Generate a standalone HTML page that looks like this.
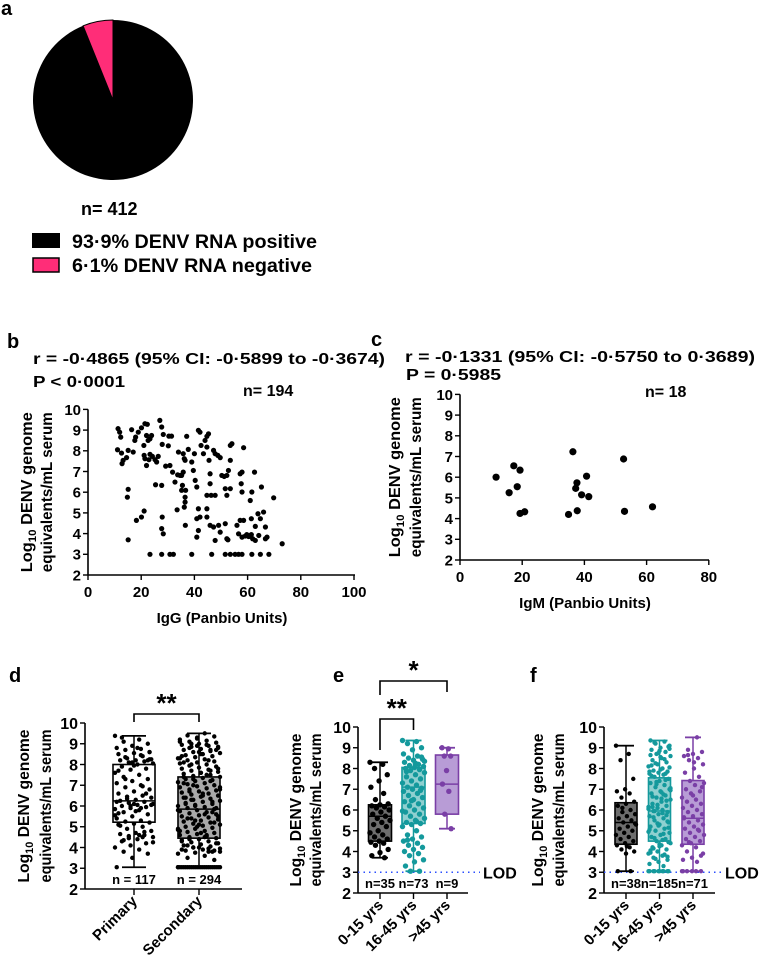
<!DOCTYPE html>
<html><head><meta charset="utf-8"><style>
html,body{margin:0;padding:0;background:#fff}
svg{display:block;font-family:"Liberation Sans",Arial,sans-serif;font-weight:bold}
</style></head><body>
<svg id="fig" width="760" height="974" viewBox="0 0 760 974" xmlns="http://www.w3.org/2000/svg">
<text x="1" y="15" font-size="20">a</text>
<g id="pie"></g>
<text x="81" y="215" font-size="18">n= 412</text>
<rect x="32" y="233" width="28" height="15" fill="#000"/>
<text x="72" y="248" font-size="19" textLength="245" lengthAdjust="spacingAndGlyphs">93·9%  DENV RNA positive</text>
<rect x="33" y="258" width="26" height="14" fill="#ff2d78" stroke="#000" stroke-width="1.5"/>
<text x="72" y="272" font-size="19" textLength="240" lengthAdjust="spacingAndGlyphs">6·1%  DENV RNA negative</text>

<text x="7" y="348" font-size="20">b</text>
<text x="33" y="364" font-size="16" textLength="352" lengthAdjust="spacingAndGlyphs">r = -0·4865 (95% CI: -0·5899 to -0·3674)</text>
<text x="33" y="387" font-size="16" textLength="92" lengthAdjust="spacingAndGlyphs">P &lt; 0·0001</text>
<text x="243" y="396" font-size="16">n= 194</text>
<g id="pb"></g>

<text x="371" y="346" font-size="20">c</text>
<text x="405" y="362" font-size="16" textLength="350" lengthAdjust="spacingAndGlyphs">r = -0·1331 (95% CI: -0·5750 to 0·3689)</text>
<text x="406" y="380" font-size="16" textLength="95" lengthAdjust="spacingAndGlyphs">P = 0·5985</text>
<text x="645" y="397" font-size="16">n= 18</text>
<g id="pc"></g>

<text x="9" y="682" font-size="20">d</text>
<text x="333" y="682" font-size="20">e</text>
<text x="530" y="682" font-size="20">f</text>
<g id="pd"></g>
<g id="pe"></g>
<g id="pf"></g>
</svg>
<script>
const pieLabels = ["DENV RNA positive","DENV RNA negative"];
const pieValues = [93.9, 6.1];

const bIgG = [11.3,11.9,12.3,16.4,11.1,12.6,13.2,12.8,14.5,15.1,17.0,17.6,17.9,18.9,20.1,21.4,22.3,22.0,22.6,23.9,23.3,21.0,21.1,21.4,22.0,22.9,23.3,24.2,25.2,25.8,26.4,27.0,27.7,28.3,27.9,30.2,30.4,31.4,29.2,27.7,31.8,32.7,33.7,34.0,34.6,35.2,35.8,36.2,36.5,37.1,37.7,35.8,35.5,35.2,36.7,36.5,36.5,36.2,33.5,36.6,39.0,40.0,39.6,40.3,40.9,41.5,42.1,42.5,43.4,44.0,44.7,45.3,44.7,45.5,45.9,45.9,47.2,47.8,48.8,49.7,47.8,46.3,44.7,41.5,42.1,40.9,41.5,40.9,44.7,44.7,45.9,47.2,47.8,49.1,49.7,52.2,51.6,52.2,52.8,53.5,53.5,54.1,50.3,51.2,53.5,51.6,52.2,52.6,56.0,56.6,57.2,57.9,57.2,57.6,57.9,58.5,58.5,57.9,59.1,59.7,60.4,61.0,61.4,61.9,62.6,61.6,61.0,61.4,62.9,62.9,63.9,64.8,64.2,65.2,66.0,66.7,66.7,67.3,69.8,73.0,15.1,14.8,18.2,20.1,21.1,15.1,27.9,27.7,28.3,25.4,30.8,23.3,27.7,30.8,32.1,39.0,46.5,51.6,53.5,55.3,56.6,57.9,61.6,64.8,68.0];
const bLoad = [9.07,8.9,8.66,9.02,8.05,7.89,7.54,7.38,7.67,8.02,7.94,8.5,8.66,8.9,9.11,9.31,9.28,8.74,8.5,8.74,8.58,8.26,7.78,7.62,7.29,7.57,7.83,7.73,7.57,7.46,7.73,9.47,9.15,8.79,8.31,8.24,8.71,8.71,7.26,6.33,6.97,6.49,6.84,7.94,6.81,6.81,7.86,7.62,7.54,8.7,8.07,6.97,6.33,6.09,6.09,5.76,5.52,5.28,5.15,4.4,7.46,7.86,7.05,6.57,6.25,8.99,8.9,8.26,7.86,8.5,8.7,8.82,8.18,7.54,6.89,6.41,8.02,7.86,7.78,7.67,5.85,5.85,5.85,5.2,4.8,4.72,4.15,3.83,5.2,4.8,4.4,4.32,3.67,4.4,4.07,5.85,6.17,6.81,7.05,7.54,8.26,8.34,6.81,6.76,6.17,4.48,3.75,3.7,4.4,3.99,4.64,6.97,6.89,6.41,6.01,8.15,4.64,3.83,3.88,3.95,3.86,3.91,3.95,3.75,6.97,6.01,5.6,4.72,4.35,3.67,4.96,4.72,3.91,6.25,5.04,4.32,3.75,3.83,5.73,3.51,6.14,5.76,4.64,4.8,5.09,3.7,4.8,4.24,3.99,6.36,7.29,3,3,3,3,3,3,3,3,3,3,3,3,3,3];

const cIgM = [11.6,17.3,19.3,18.4,15.8,19.3,20.8,36.3,37.6,37.2,40.7,39.1,41.4,34.9,37.7,52.6,52.9,61.9];
const cLoad = [6.0,6.55,6.34,5.54,5.25,4.25,4.33,7.23,5.73,5.46,6.05,5.15,5.06,4.2,4.38,6.88,4.35,4.57];

const xTicksB = [0,20,40,60,80,100];
const xTicksC = [0,20,40,60,80];
const yTicks = [2,3,4,5,6,7,8,9,10];

const dCategories = ["Primary","Secondary"];
const dCounts = ["n = 117","n = 294"];
const dWhiskLo = [3.05,3.05], dQ1 = [5.22,4.45], dMed = [6.25,5.85], dQ3 = [8.0,7.4], dWhiskHi = [9.38,9.5];
const dPrimary = [9.38,9.2,9.1,9.0,8.9,8.8,8.75,8.7,8.6,8.55,8.5,8.4,8.3,8.25,8.2,8.2,8.15,8.1,8.05,8.0,7.9,7.8,7.75,7.6,7.5,7.4,7.3,7.2,7.1,7.0,6.9,6.8,6.7,6.6,6.5,6.45,6.4,6.3,6.25,6.2,6.15,6.1,6.05,6.0,5.95,5.9,5.85,5.8,5.7,5.6,5.5,5.4,5.3,5.25,5.2,5.15,5.1,5.0,4.9,4.8,4.7,4.65,4.6,4.55,4.5,4.4,4.3,4.2,4.1,4.0,3.9,3.8,3.7,3.5,3.05,8.45,8.35,8.6,7.95,7.7,6.95,6.35,6.05,5.75,5.05,4.75,4.45,4.25,8.8,9.3,6.6,6.0,5.55,4.6,4.35,8.2,8.1,6.2,5.9,7.3,8.25,6.1,5.65,4.5];
const dSecondary = [3.05,3.05,3.05,3.05,3.05,3.05,3.05,3.05,3.05,3.05,3.05,3.05,3.05,3.05,3.05,3.05,3.05,3.05,3.05,3.05,3.05,3.05,3.05,3.05,
9.5,9.4,9.35,9.3,9.2,9.15,9.1,9.05,9.0,8.95,8.9,8.85,8.8,8.75,8.7,8.65,8.6,8.55,8.5,8.45,8.4,8.35,8.3,8.25,8.2,8.15,8.1,8.05,8.0,7.95,7.9,7.85,7.8,7.75,7.7,7.65,7.6,7.55,7.5,7.45,7.4,7.35,7.3,7.25,7.2,7.15,7.1,7.05,7.0,6.95,6.9,6.85,6.8,6.75,6.7,6.65,6.6,6.55,6.5,6.45,6.4,6.35,6.3,6.25,6.2,6.15,6.1,6.05,6.0,5.95,5.9,5.85,5.8,5.75,5.7,5.65,5.6,5.55,5.5,5.45,5.4,5.35,5.3,5.25,5.2,5.15,5.1,5.05,5.0,4.95,4.9,4.85,4.8,4.75,4.7,4.65,4.6,4.55,4.5,4.45,4.4,4.35,4.3,4.25,4.2,4.15,4.1,4.05,4.0,3.95,3.9,3.85,3.8,3.75,3.7,3.6,3.5,3.4,
9.25,9.1,8.95,8.8,8.7,8.6,8.4,8.2,8.0,7.8,7.6,7.4,7.2,7.0,6.8,6.6,6.4,6.2,6.0,5.8,5.6,5.4,5.2,5.0,4.8,4.6,4.4,4.2,4.0,3.9,3.8,
9.0,8.85,8.5,8.1,7.7,7.3,6.9,6.5,6.1,5.7,5.3,4.9,4.5,4.1,3.85,
8.9,8.3,7.5,6.7,5.9,5.1,4.3,3.95,6.3,5.5,4.7,7.1,8.7,4.0,3.8];

const eCategories = ["0-15 yrs","16-45 yrs",">45 yrs"];
const eCounts = ["n=35","n=73","n=9"];
const eWhiskLo = [3.7,3.05,5.1], eQ1 = [4.5,5.35,5.8], eMed = [5.7,7.1,7.25], eQ3 = [6.25,8.05,8.65], eWhiskHi = [8.3,9.35,9.0];
const eG1 = [8.3,8.2,8.0,7.7,7.4,7.1,6.8,6.5,6.3,6.25,6.2,6.15,6.1,6.0,5.9,5.8,5.7,5.6,5.5,5.4,5.3,5.2,5.0,4.9,4.8,4.7,4.6,4.5,4.45,4.4,4.3,4.1,3.95,3.8,3.7];
const eG2 = [9.35,9.3,9.2,9.0,8.9,8.7,8.6,8.5,8.45,8.4,8.3,8.2,8.15,8.1,8.05,8.0,7.95,7.9,7.8,7.7,7.6,7.5,7.4,7.3,7.2,7.1,7.05,7.0,6.9,6.8,6.7,6.6,6.5,6.4,6.3,6.2,6.1,6.0,5.9,5.8,5.7,5.6,5.5,5.4,5.35,5.3,5.2,5.0,4.8,4.7,4.6,4.5,4.4,4.3,4.2,4.1,4.0,3.9,3.8,3.6,3.5,3.3,3.05,3.05,8.35,8.25,7.85,6.95,6.45,5.95,5.45,4.55,8.55];
const eG3 = [9.0,8.95,8.6,8.6,7.9,7.25,6.9,5.8,5.1];

const fCategories = ["0-15 yrs","16-45 yrs",">45 yrs"];
const fCounts = ["n=38","n=185","n=71"];
const fWhiskLo = [3.05,3.05,3.05], fQ1 = [4.35,4.5,4.35], fMed = [5.4,5.95,5.6], fQ3 = [6.35,7.55,7.42], fWhiskHi = [9.1,9.35,9.5];
const fG1 = [9.1,8.7,8.4,7.5,7.0,6.9,6.8,6.6,6.4,6.3,6.2,6.0,5.9,5.8,5.7,5.6,5.5,5.4,5.3,5.2,5.1,5.0,4.9,4.8,4.7,4.6,4.5,4.4,4.3,4.2,4.1,4.0,3.9,3.05,3.05,6.1,5.35,4.25];
const fG2 = [3.05,3.05,3.05,3.05,3.05,3.05,3.05,3.05,3.05,3.05,9.35,9.3,9.2,9.1,9.0,8.9,8.8,8.7,8.6,8.5,8.4,8.3,8.2,8.1,8.0,7.9,7.85,7.8,7.75,7.7,7.6,7.5,7.4,7.3,7.2,7.1,7.0,6.9,6.8,6.7,6.6,6.5,6.4,6.3,6.2,6.1,6.05,6.0,5.95,5.9,5.8,5.7,5.6,5.5,5.4,5.3,5.2,5.1,5.0,4.9,4.8,4.7,4.6,4.5,4.4,4.3,4.2,4.1,4.0,3.9,3.8,3.7,3.6,3.5,3.4,3.3,
9.25,9.05,8.85,8.65,8.45,8.25,8.05,7.95,7.65,7.45,7.25,7.05,6.85,6.65,6.45,6.25,6.15,5.85,5.65,5.45,5.25,5.05,4.85,4.65,4.45,4.25,4.05,3.85,3.65,
8.95,8.55,8.15,7.75,7.35,6.95,6.55,6.15,5.75,5.35,4.95,4.55,4.15,3.75,8.75,7.85,6.75,5.95,5.15,4.35,3.95];
const fG3 = [3.05,3.05,3.05,3.05,3.05,3.05,9.5,8.9,8.8,8.7,8.6,8.5,8.4,8.2,8.0,7.8,7.6,7.4,7.3,7.2,7.0,6.9,6.8,6.6,6.5,6.4,6.3,6.2,6.1,6.0,5.9,5.8,5.7,5.6,5.5,5.4,5.3,5.2,5.1,5.0,4.9,4.8,4.7,4.6,4.5,4.4,4.3,4.2,4.0,3.8,3.7,3.6,3.5,8.65,7.1,6.7,5.65,5.05,4.45,3.9,8.3];

const NS = "http://www.w3.org/2000/svg";
function mk(parent, tag, attrs, text){
  const e = document.createElementNS(NS, tag);
  for (const k in attrs) e.setAttribute(k, attrs[k]);
  if (text !== undefined) e.textContent = text;
  parent.appendChild(e);
  return e;
}
function yTitle(g, x1, x2, cy, len, fs){
  const t1 = mk(g,"text",{transform:`translate(${x1},${cy}) rotate(-90)`,"text-anchor":"middle","font-size":fs,textLength:len,lengthAdjust:"spacingAndGlyphs"});
  
  
  mk(t1,"tspan",{},"Log");
  mk(t1,"tspan",{"font-size":fs*0.7,dy:4},"10");
  mk(t1,"tspan",{dy:-4}," DENV genome");
  const t2 = mk(g,"text",{x:0,y:0,transform:`translate(${x2},${cy}) rotate(-90)`,"text-anchor":"middle","font-size":fs,textLength:len,lengthAdjust:"spacingAndGlyphs"},"equivalents/mL serum");
  
  
}
function yAxis(g, ax, ys, fs){
  const top = ys(10), bot = ys(2);
  const l = mk(g,"line",{x1:ax,y1:top,x2:ax,y2:bot,stroke:"#000","stroke-width":1.6});
  
  
  yTicks.forEach(v=>{
    mk(g,"line",{x1:ax-5,y1:ys(v),x2:ax,y2:ys(v),stroke:"#000","stroke-width":1.4});
    const t = mk(g,"text",{x:ax-7,y:ys(v)+fs*0.36,"text-anchor":"end","font-size":fs},String(v));
    
    
  });
}

(function(){
  const g = document.getElementById('pie');
  const cx=113, cy=100, r=80;
  const total = pieValues.reduce((a,b)=>a+b,0);
  const colors = ["#000","#ff2d78"];
  let a0 = 0;
  pieValues.forEach((v,i)=>{
    const a1 = a0 + v/total*2*Math.PI;
    const x0 = cx + r*Math.sin(a0), y0 = cy - r*Math.cos(a0);
    const x1 = cx + r*Math.sin(a1), y1 = cy - r*Math.cos(a1);
    const large = (a1-a0) > Math.PI ? 1 : 0;
    const p = mk(g,"path",{d:`M${cx},${cy} L${x0},${y0} A${r},${r} 0 ${large} 1 ${x1},${y1} Z`,fill:colors[i],stroke:i?"#000":"none","stroke-width":1});
    
    
    a0 = a1;
  });
})();

function scatter(id, xs, ys, xData, yData, xTicks, ax, xEnd, xTitle, xTitleX, titleX1, titleX2, rPt){
  const g = document.getElementById(id);
  yAxis(g, ax, ys, 15);
  const bot = ys(2);
  const l = mk(g,"line",{x1:ax,y1:bot,x2:xEnd,y2:bot,stroke:"#000","stroke-width":1.6});
  
  
  xTicks.forEach(v=>{
    mk(g,"line",{x1:xs(v),y1:bot,x2:xs(v),y2:bot+5,stroke:"#000","stroke-width":1.4});
    const t = mk(g,"text",{x:xs(v),y:bot+22,"text-anchor":"middle","font-size":15},String(v));
    
    
  });
  const xt = mk(g,"text",{x:xTitleX,y:bot+48,"text-anchor":"middle","font-size":15},xTitle);
  
  
  yTitle(g, titleX1, titleX2, (ys(10)+ys(2))/2, 160, 16);
  xData.forEach((v,i)=>{
    const c = mk(g,"circle",{cx:xs(v),cy:ys(yData[i]),r:rPt,fill:"#000"});
    
    
  });
}
scatter('pb', v=>88+v*2.66, v=>575-(v-2)*20.7, bIgG, bLoad, xTicksB, 88, 355, "IgG (Panbio Units)", 222, 32, 52, 2.6);
scatter('pc', v=>460+v*3.11, v=>560-(v-2)*20.7, cIgM, cLoad, xTicksC, 460, 709, "IgM (Panbio Units)", 585, 400, 421, 3.6);

function boxPanel(id, cfg){
  const g = document.getElementById(id);
  const ys = v => cfg.bot - (v-2)*cfg.unit;
  const xc = i => cfg.ax + cfg.first + i*cfg.step;
  yAxis(g, cfg.ax, ys, 16);
  const bot = ys(2);
  const xl = mk(g,"line",{x1:cfg.ax,y1:bot,x2:cfg.xEnd,y2:bot,stroke:"#000","stroke-width":1.6});
  
  
  yTitle(g, cfg.t1, cfg.t2, (ys(10)+bot)/2, 153, 16);
  if (cfg.lod){
    const ll = mk(g,"line",{x1:cfg.ax,y1:ys(3),x2:cfg.lodEnd,y2:ys(3),stroke:"#2b4fff","stroke-width":1.5,"stroke-dasharray":"1.5,4"});
    
    
    const lt = mk(g,"text",{x:cfg.lodEnd+3,y:ys(3)+6,"font-size":16},"LOD");
    
    
  }
  cfg.cats.forEach((c,i)=>{
    const x = xc(i);
    mk(g,"line",{x1:x,y1:bot,x2:x,y2:bot+6,stroke:"#000","stroke-width":1.4});
    const t = mk(g,"text",{transform:`translate(${x+4},${bot+13}) rotate(-45)`,"text-anchor":"end","font-size":cfg.catFs},c);
    
    
    const col = cfg.stroke[i];
    const hw = cfg.half, cw = cfg.cap;
    const wh = mk(g,"line",{x1:x,y1:ys(cfg.hi[i]),x2:x,y2:ys(cfg.lo[i]),stroke:col,"stroke-width":1.5});
    
    
    mk(g,"line",{x1:x-cw,y1:ys(cfg.hi[i]),x2:x+cw,y2:ys(cfg.hi[i]),stroke:col,"stroke-width":1.8});
    mk(g,"line",{x1:x-cw,y1:ys(cfg.lo[i]),x2:x+cw,y2:ys(cfg.lo[i]),stroke:col,"stroke-width":1.8});
    const b = mk(g,"rect",{x:x-hw,y:ys(cfg.q3[i]),width:2*hw,height:ys(cfg.q1[i])-ys(cfg.q3[i]),fill:cfg.fill[i],stroke:col,"stroke-width":1.6});
    
    
    cfg.pts[i].forEach((v,j)=>{
      const off = (((j*37)%23)/22 - 0.5)*2*cfg.jit[i];
      const d = mk(g,"circle",{cx:x+off,cy:ys(v),r:cfg.dotR,fill:cfg.dot[i]});
      
      
    });
    const m = mk(g,"line",{x1:x-hw,y1:ys(cfg.med[i]),x2:x+hw,y2:ys(cfg.med[i]),stroke:col,"stroke-width":1.5});
    
    
    const n = mk(g,"text",{x:x,y:bot-5,"text-anchor":"middle","font-size":cfg.nFs},cfg.counts[i]);
    
    
  });
  (cfg.brackets||[]).forEach(br=>{
    const x1 = xc(br.a), x2 = xc(br.b);
    const p = mk(g,"path",{d:`M${x1},${br.l1} L${x1},${br.top} L${x2},${br.top} L${x2},${br.l2}`,fill:"none",stroke:"#000","stroke-width":1.6});
    
    
    const s = mk(g,"text",{x:(x1+x2)/2,y:br.top-2,"text-anchor":"middle","font-size":26},br.label);
    
    
  });
}
boxPanel('pd',{ax:85,xEnd:242,bot:889,unit:20.75,first:49,step:65,cats:dCategories,counts:dCounts,
  lo:dWhiskLo,q1:dQ1,med:dMed,q3:dQ3,hi:dWhiskHi,pts:[dPrimary,dSecondary],
  stroke:["#000","#000"],fill:["#fff","#a9a9a9"],dot:["#000","#000"],half:21,cap:12,jit:[19,21],dotR:2.2,
  t1:29,t2:51,catFs:15,nFs:13,
  brackets:[{a:0,b:1,top:714,l1:722,l2:722,label:"**"}]});
boxPanel('pe',{ax:358,xEnd:468,bot:893,unit:20.75,first:22,step:33.5,cats:eCategories,counts:eCounts,
  lo:eWhiskLo,q1:eQ1,med:eMed,q3:eQ3,hi:eWhiskHi,pts:[eG1,eG2,eG3],
  stroke:["#000","#14999c","#7a3fa6"],fill:["#6e6e6e","#8fd0d0","#b89cd6"],dot:["#000","#14999c","#7a3fa6"],half:11.5,cap:8,jit:[10,11,5],dotR:2.7,
  t1:301,t2:321,catFs:15,nFs:13,lod:true,lodEnd:480,
  brackets:[{a:0,b:1,top:719,l1:750,l2:730,label:"**"},{a:0,b:2,top:681,l1:695,l2:692,label:"*"}]});
boxPanel('pf',{ax:604,xEnd:715,bot:893,unit:20.75,first:22,step:33.5,cats:fCategories,counts:fCounts,
  lo:fWhiskLo,q1:fQ1,med:fMed,q3:fQ3,hi:fWhiskHi,pts:[fG1,fG2,fG3],
  stroke:["#000","#14999c","#7a3fa6"],fill:["#6e6e6e","#8fd0d0","#b89cd6"],dot:["#000","#14999c","#7a3fa6"],half:11,cap:8,jit:[10,11,11],dotR:2.2,
  t1:543,t2:564,catFs:15,nFs:13,lod:true,lodEnd:722});
</script>
</body></html>
